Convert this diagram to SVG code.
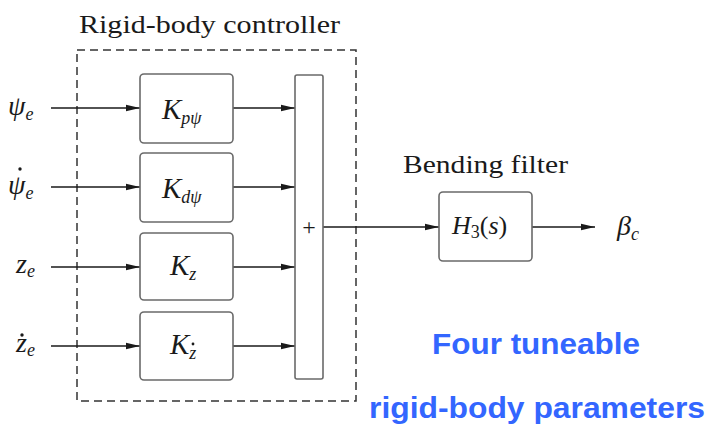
<svg xmlns="http://www.w3.org/2000/svg" width="706" height="430" viewBox="0 0 706 430">
<style>
.blk{fill:#fff;stroke:#6a6a6a;stroke-width:1.6}
.ln{stroke:#1a1a1a;stroke-width:1.5;fill:none}
.dot{fill:#1a1a1a}
.cm{font-family:"Liberation Serif","DejaVu Serif",serif;fill:#1a1a1a}
.mi{font-family:"Liberation Serif","DejaVu Serif",serif;font-style:italic;fill:#1a1a1a}
.blue{font-family:"Liberation Sans",Arial,sans-serif;font-weight:bold;fill:#3366ff;font-size:29px;text-anchor:middle}
</style>
<defs>
<marker id="arr" markerWidth="14" markerHeight="8" refX="14" refY="4" orient="auto" markerUnits="userSpaceOnUse">
<path d="M0,0.8 L14,4 L0,7.2 Z" fill="#1a1a1a"/>
</marker>
</defs>
<rect id="controller-frame" x="77" y="50" width="279" height="351" fill="none" stroke="#333" stroke-width="1.5" stroke-dasharray="8,5"/>
<text class="cm" x="79" y="33" font-size="26" textLength="261" lengthAdjust="spacingAndGlyphs">Rigid-body controller</text>
<text class="cm" x="403" y="173" font-size="26" textLength="165" lengthAdjust="spacingAndGlyphs">Bending filter</text>
<g id="connectors">
<line class="ln" x1="51" y1="108" x2="140" y2="108" marker-end="url(#arr)"/>
<line class="ln" x1="51" y1="187" x2="140" y2="187" marker-end="url(#arr)"/>
<line class="ln" x1="51" y1="267" x2="140" y2="267" marker-end="url(#arr)"/>
<line class="ln" x1="51" y1="346" x2="140" y2="346" marker-end="url(#arr)"/>
<line class="ln" x1="233" y1="108" x2="295" y2="108" marker-end="url(#arr)"/>
<line class="ln" x1="233" y1="187" x2="295" y2="187" marker-end="url(#arr)"/>
<line class="ln" x1="233" y1="267" x2="295" y2="267" marker-end="url(#arr)"/>
<line class="ln" x1="233" y1="346" x2="295" y2="346" marker-end="url(#arr)"/>
<line class="ln" x1="323" y1="227" x2="439" y2="227" marker-end="url(#arr)"/>
<line class="ln" x1="532" y1="227" x2="595" y2="227" marker-end="url(#arr)"/>
</g>
<g id="in-psi">
<text class="mi" x="8" y="115" font-size="28">ψ<tspan font-size="18" dy="5">e</tspan></text>
</g>
<g id="in-psidot">
<text class="mi" x="8" y="194" font-size="28">ψ<tspan font-size="18" dy="5">e</tspan></text>
<circle class="dot" cx="20" cy="169" r="1.7"/>
</g>
<g id="in-z">
<text class="mi" x="16" y="273" font-size="28">z<tspan font-size="18" dy="4">e</tspan></text>
</g>
<g id="in-zdot">
<text class="mi" x="16" y="352" font-size="28">z<tspan font-size="18" dy="4">e</tspan></text>
<circle class="dot" cx="22" cy="335" r="1.7"/>
</g>
<g id="K-p-psi">
<rect class="blk" x="140" y="74" width="93" height="69" rx="4"/>
<text class="mi" x="162" y="119" font-size="29">K<tspan font-size="18" dy="5">p</tspan><tspan font-size="18">ψ</tspan></text>
</g>
<g id="K-d-psi">
<rect class="blk" x="140" y="153" width="93" height="69" rx="4"/>
<text class="mi" x="162" y="198" font-size="29">K<tspan font-size="18" dy="5">d</tspan><tspan font-size="18">ψ</tspan></text>
</g>
<g id="K-z">
<rect class="blk" x="140" y="233" width="93" height="67" rx="4"/>
<text class="mi" x="170" y="275" font-size="29">K<tspan font-size="18" dy="5">z</tspan></text>
</g>
<g id="K-zdot">
<rect class="blk" x="140" y="312" width="93" height="68" rx="4"/>
<text class="mi" x="170" y="354" font-size="29">K<tspan font-size="18" dy="5">z</tspan></text>
<circle class="dot" cx="193" cy="344" r="1.4"/>
</g>
<g id="summer">
<rect class="blk" x="295" y="75" width="28" height="304" rx="2"/>
<text class="cm" x="309" y="235" font-size="24" text-anchor="middle">+</text>
</g>
<g id="H3">
<rect class="blk" x="439" y="192" width="93" height="69" rx="4"/>
<text class="mi" x="452" y="234" font-size="26">H<tspan font-style="normal" font-size="18" dy="4">3</tspan><tspan font-style="normal" dy="-4">(</tspan>s<tspan font-style="normal">)</tspan></text>
</g>
<g id="out-beta">
<text class="mi" x="617" y="235" font-size="28">β<tspan font-size="18" dy="5">c</tspan></text>
</g>
<text class="blue" x="536" y="354" textLength="208" lengthAdjust="spacingAndGlyphs">Four tuneable</text>
<text class="blue" x="537" y="418" textLength="336" lengthAdjust="spacingAndGlyphs">rigid-body parameters</text>
</svg>
